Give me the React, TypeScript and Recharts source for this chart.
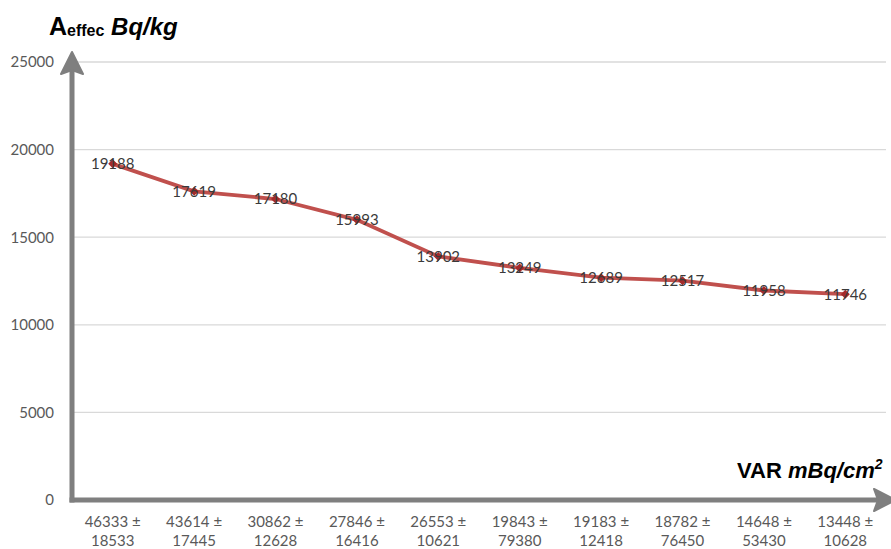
import React from 'react';
import { LineChart, Line, XAxis, YAxis, CartesianGrid, LabelList, Customized } from 'recharts';

const categories = [
  '46333 ± 18533',
  '43614 ± 17445',
  '30862 ± 12628',
  '27846 ± 16416',
  '26553 ± 10621',
  '19843 ± 79380',
  '19183 ± 12418',
  '18782 ± 76450',
  '14648 ± 53430',
  '13448 ± 10628',
];
const activity = [19188, 17619, 17180, 15993, 13902, 13249, 12689, 12517, 11958, 11746];
const yTicks = [0, 5000, 10000, 15000, 20000, 25000];

const data = categories.map((c, i) => ({ cat: c, value: activity[i] }));

const AXIS_GREY = '#7f7f7f';
const TICK_COLOR = '#595959';
const LINE_RED = '#c0504d';
const TICK_FONT = 'Lato, "Open Sans", sans-serif';
const TITLE_FONT = '"Liberation Sans", Arial, sans-serif';

const XTick = (props: any) => {
  const { x, y, payload } = props;
  const parts = String(payload.value).split(' ± ');
  return (
    <g>
      <text textAnchor="middle" fill={TICK_COLOR} fontSize={15} fontFamily={TICK_FONT}>
        <tspan x={x} y={y + 27}>{parts[0] + ' ±'}</tspan>
        <tspan x={x} y={y + 46}>{parts[1]}</tspan>
      </text>
    </g>
  );
};

const Diamond = (props: any) => {
  const { cx, cy } = props;
  if (cx == null || cy == null) return null;
  const r = 4.5;
  return (
    <path
      d={`M${cx},${cy - r}L${cx + r},${cy}L${cx},${cy + r}L${cx - r},${cy}Z`}
      fill="#a52a2a"
    />
  );
};

const Extras = () => (
  <g>
    <defs>
      <marker
        id="axisArrow"
        markerUnits="userSpaceOnUse"
        markerWidth={26}
        markerHeight={26}
        viewBox="0 0 26 26"
        refX={13}
        refY={13}
        orient="auto-start-reverse"
      >
        <path d="M1,2 L23,13 L1,24 L5,13 Z" fill={AXIS_GREY} stroke={AXIS_GREY} strokeWidth={2} strokeLinejoin="round" />
      </marker>
    </defs>
    <text x={49} y={35} fontFamily={TITLE_FONT} fontWeight="bold" fill="#000">
      <tspan fontSize={25}>A</tspan>
      <tspan fontSize={16} dy={1}>effec</tspan>
      <tspan fontSize={24} dy={-1} fontStyle="italic"> Bq/kg</tspan>
    </text>
    <text x={737} y={478} fontFamily={TITLE_FONT} fontWeight="bold" fill="#000" fontSize={22}>
      <tspan>VAR </tspan>
      <tspan fontStyle="italic">mBq/cm</tspan>
      <tspan fontStyle="italic" fontSize={14} dy={-9}>2</tspan>
    </text>
  </g>
);

export default function App() {
  return (
    <div style={{ position: 'absolute', left: 0, top: 0, width: 891, height: 549, background: '#fff' }}>
      <LineChart
        width={891}
        height={549}
        data={data}
        margin={{ top: 62, right: 5, bottom: 0, left: 0 }}
      >
        <Customized component={Extras} />
        <CartesianGrid horizontal vertical={false} stroke="#d9d9d9" strokeWidth={1.3} />
        <XAxis
          dataKey="cat"
          scale="band"
          height={49}
          tick={<XTick />}
          tickLine={false}
          tickSize={0}
          tickMargin={0}
          interval={0}
          axisLine={{ stroke: AXIS_GREY, strokeWidth: 5, strokeLinecap: 'square', markerEnd: 'url(#axisArrow)' } as any}
        />
        <YAxis
          width={72}
          domain={[0, 25000]}
          ticks={yTicks}
          interval={0}
          tickLine={false}
          tickSize={0}
          tickMargin={18}
          tick={{ fill: TICK_COLOR, fontSize: 15, fontFamily: TICK_FONT }}
          axisLine={{ stroke: AXIS_GREY, strokeWidth: 5, strokeLinecap: 'square', markerStart: 'url(#axisArrow)' } as any}
        />
        <Line
          type="linear"
          dataKey="value"
          stroke={LINE_RED}
          strokeWidth={3.8}
          isAnimationActive={false}
          dot={(p: any) => <Diamond key={`d${p.index}`} {...p} />}
          activeDot={false}
        >
          <LabelList dataKey="value" position="center" fill="#3a3a3a" fontSize={15} fontFamily={TICK_FONT} />
        </Line>
      </LineChart>
    </div>
  );
}
